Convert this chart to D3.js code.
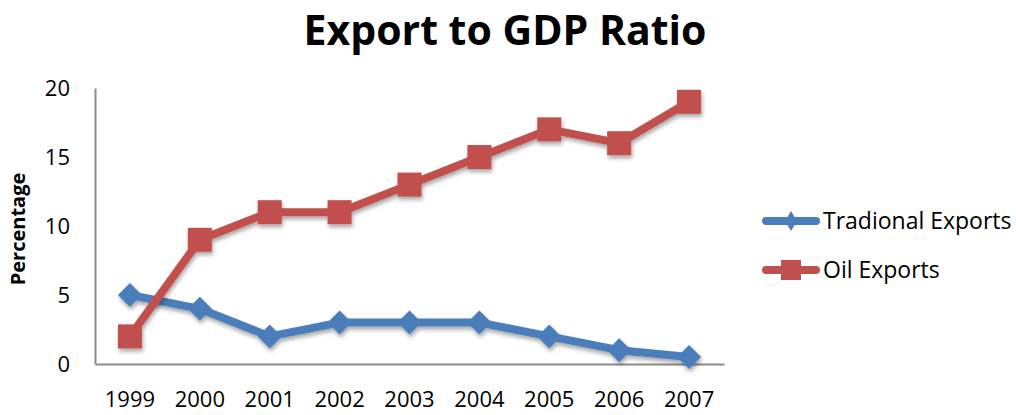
<!DOCTYPE html>
<html>
  <head>
    <meta charset="utf-8">
    <title>Export to GDP Ratio</title>
    <script src="https://d3js.org/d3.v7.min.js"></script>
    <style>
      body { margin: 0; background: #fff; }
      text { font-family: "Open Sans", sans-serif; fill: #000; }
    </style>
  </head>
  <body>
    <div id="chart"></div>
    <script>
      // data
      const years = ["1999", "2000", "2001", "2002", "2003", "2004", "2005", "2006", "2007"];
      const traditional = [5, 4, 2, 3, 3, 3, 2, 1, 0.5];
      const oil = [2, 9, 11, 11, 13, 15, 17, 16, 19];
      const yTicks = [0, 5, 10, 15, 20];
      const seriesNames = ["Tradional Exports", "Oil Exports"];

      const width = 1016, height = 415;
      const margin = { top: 88, left: 95, right: 292, bottom: 51 };

      const svg = d3.select("#chart")
        .append("svg")
          .attr("width", width)
          .attr("height", height);

      // soft drop shadow like the original
      const defs = svg.append("defs");
      const f = defs.append("filter").attr("id", "shadow")
        .attr("x", "-20%").attr("y", "-20%").attr("width", "140%").attr("height", "140%");
      f.append("feDropShadow")
        .attr("dx", 1).attr("dy", 3).attr("stdDeviation", 2)
        .attr("flood-color", "#000").attr("flood-opacity", 0.35);

      const x = d3.scaleBand()
        .domain(years)
        .range([margin.left, width - margin.right]);
      const y = d3.scaleLinear()
        .domain([0, 20])
        .range([height - margin.bottom, margin.top]);

      // title
      svg.append("text")
        .attr("x", 505)
        .attr("y", 45)
        .attr("text-anchor", "middle")
        .style("font-size", "41px")
        .style("font-weight", "bold")
        .text("Export to GDP Ratio");

      // axes
      const xAxis = svg.append("g")
        .attr("transform", "translate(0," + y(0) + ")")
        .call(d3.axisBottom(x).tickSize(0).tickPadding(27));
      const yAxis = svg.append("g")
        .attr("transform", "translate(" + margin.left + ",0)")
        .call(d3.axisLeft(y).tickValues(yTicks).tickSize(0).tickPadding(25));
      [xAxis, yAxis].forEach(function(g) {
        g.select(".domain").attr("stroke", "#8c8c8c").attr("stroke-width", 2);
        g.selectAll("text").style("font-size", "22px").attr("fill", "#000");
      });

      svg.append("text")
        .attr("transform", "translate(25," + (y(10) + 3) + ") rotate(-90)")
        .attr("text-anchor", "middle")
        .style("font-size", "20px")
        .style("font-weight", "bold")
        .text("Percentage");

      const line = d3.line()
        .x(function(d, i) { return x(years[i]) + x.bandwidth() / 2; })
        .y(function(d) { return y(d); });

      const series = [
        { name: seriesNames[0], values: traditional, color: "#4A7EBB", marker: "diamond" },
        { name: seriesNames[1], values: oil, color: "#C0504D", marker: "square" }
      ];

      function drawMarker(g, kind, color, w, h) {
        if (kind == "diamond") {
          g.append("path")
            .attr("d", "M0," + (-h) + "L" + w + ",0L0," + h + "L" + (-w) + ",0Z")
            .attr("fill", color);
        } else {
          g.append("rect")
            .attr("x", -w).attr("y", -h)
            .attr("width", w * 2).attr("height", h * 2)
            .attr("fill", color);
        }
      }

      series.forEach(function(s) {
        const g = svg.append("g").attr("filter", "url(#shadow)");
        g.append("path")
          .datum(s.values)
          .attr("d", line)
          .attr("fill", "none")
          .attr("stroke", s.color)
          .attr("stroke-width", 8)
          .attr("stroke-linejoin", "round");
        g.selectAll(".pt")
          .data(s.values)
          .enter().append("g")
            .attr("transform", function(d, i) {
              return "translate(" + (x(years[i]) + x.bandwidth() / 2) + "," + y(d) + ")";
            })
            .each(function() {
              const r = s.marker == "diamond" ? 12 : 12;
              drawMarker(d3.select(this), s.marker, s.color, r, r);
            });
      });

      // legend
      const legend = svg.append("g");
      series.forEach(function(s, i) {
        const ly = 221 + i * 49;
        const lg = legend.append("g");
        lg.append("line")
          .attr("x1", 766).attr("x2", 816)
          .attr("y1", ly).attr("y2", ly)
          .attr("stroke", s.color)
          .attr("stroke-width", 8)
          .attr("stroke-linecap", "round");
        const m = lg.append("g").attr("transform", "translate(791," + ly + ")");
        if (s.marker == "diamond") drawMarker(m, "diamond", s.color, 6, 10);
        else drawMarker(m, "square", s.color, 10, 10);
        lg.append("text")
          .attr("x", 823)
          .attr("y", ly + 8)
          .style("font-size", "23px")
          .text(s.name);
      });
    </script>
  </body>
</html>
